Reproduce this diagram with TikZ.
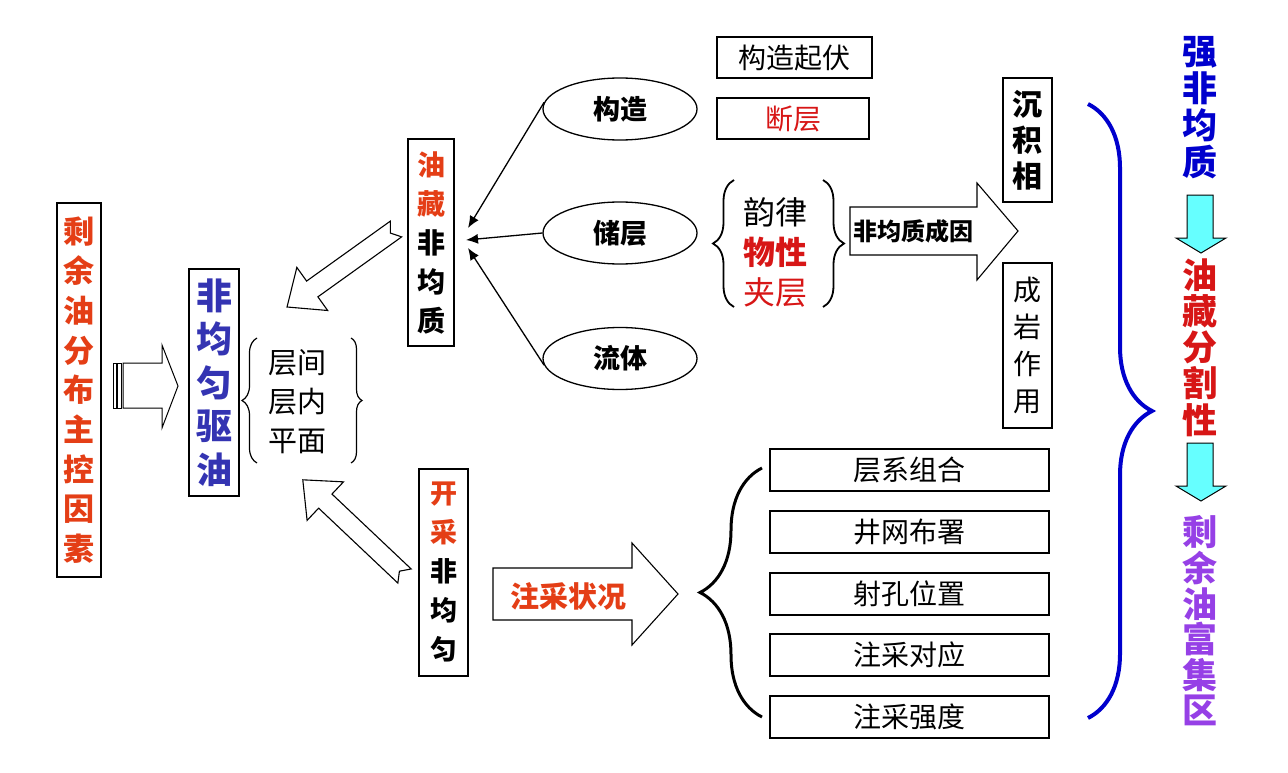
\documentclass[tikz,border=0pt]{standalone}
\usepackage{fontspec}
\setmainfont{Noto Sans CJK SC}
\usetikzlibrary{arrows.meta,decorations.pathreplacing,shapes.geometric,calc}
\definecolor{oilred}{RGB}{228,62,22}
\definecolor{drvblue}{RGB}{52,52,178}
\definecolor{facred}{RGB}{215,22,22}
\definecolor{strblue}{RGB}{0,0,205}
\definecolor{remviolet}{RGB}{150,64,230}
\definecolor{arrcyan}{RGB}{102,255,255}
\newcommand{\notcharrow}[3]{%
  \begin{scope}[shift={#1},rotate=#2]
    \draw[line width=1.1pt,fill=white] (0,-9.7)--(#3-31,-9.7)--(#3-31,-26.5)--(#3,0)--(#3-31,26.5)--(#3-31,9.7)--(0,9.7)--(7,0)--cycle;
  \end{scope}}

\begin{document}
\begin{tikzpicture}[x=1pt,y=-1pt,>=Latex,
  box/.style={draw,line width=1.4pt,inner sep=0pt,align=center},
  oval/.style={draw,ellipse,line width=1.3pt,minimum width=154pt,minimum height=62pt,inner sep=0pt,font=\bfseries\fontsize{27}{30}\selectfont},
  brc/.style={decorate,decoration={brace,amplitude=#1}},
  feed/.style={line width=1.3pt,-{Latex[length=12pt,width=10pt]}}]
\useasboundingbox (0,0) rectangle (1288,773);
\node[box,minimum width=44pt,minimum height=374pt,text=oilred,font=\bfseries\fontsize{31}{39.7}\selectfont] (ctrl) at (79,390) {剩\\余\\油\\分\\布\\主\\控\\因\\素};
\draw[line width=1pt] (113,363) rectangle (116,408); \draw[line width=1pt] (117.5,363) rectangle (121,408);
\draw[line width=1pt,fill=white] (123,363)--(162,363)--(162,345)--(178,386)--(162,428)--(162,408)--(123,408)--cycle;
\node[box,minimum width=50pt,minimum height=227pt,text=drvblue,font=\bfseries\fontsize{36}{43.5}\selectfont] (drive) at (214,382.5) {非\\均\\匀\\驱\\油};
\node[align=center,font=\fontsize{29}{39}\selectfont] (lvl) at (297,402) {层间\\层内\\平面};
\draw[brc=15,line width=1.2pt] (257,463) -- (257,338); \draw[brc=11,line width=1.2pt] (351,338) -- (351,463);
\node[box,minimum width=46pt,minimum height=207pt,font=\bfseries\fontsize{28}{39}\selectfont] (resv) at (431,242.5) {{\color{oilred}油}\\{\color{oilred}藏}\\非\\均\\质};
\node[box,minimum width=49pt,minimum height=207pt,font=\bfseries\fontsize{27}{39}\selectfont] (dev) at (443.5,572.5) {{\color{oilred}开}\\{\color{oilred}采}\\非\\均\\匀};
\notcharrow{(396,229)}{215.6}{134}
\notcharrow{(404.5,576)}{136.6}{140}
\node[oval] (gz) at (620,109) {构造}; \node[oval] (cc) at (620,233) {储层}; \node[oval] (lt) at (620,358.5) {流体};
\coordinate (hit) at (467,239);
\draw[feed] (gz.175) -- ($(hit)+(1,-11)$); \draw[feed] (cc.west) -- ($(hit)+(-1,1)$); \draw[feed] (lt.185) -- ($(hit)+(1,9)$);
\node[box,minimum width=155pt,minimum height=41pt,font=\fontsize{28}{30}\selectfont] (qf) at (794.5,57.5) {构造起伏};
\node[box,minimum width=152pt,minimum height=41pt,text=facred,font=\fontsize{28}{30}\selectfont] (dc) at (793,118.5) {断层};
\node[align=center,font=\fontsize{32}{40}\selectfont] (yl) at (775,252) {韵律\\{\color{facred}\bfseries 物性}\\{\color{facred}夹层}};
\draw[brc=21,line width=1.8pt] (734,307) -- (734,180); \draw[brc=21,line width=1.8pt] (823,180) -- (823,307);
\draw[line width=1.1pt,fill=white] (850,207)--(977,207)--(977,183)--(1018,231)--(977,280)--(977,255)--(850,255)--cycle;
\node[font=\bfseries\fontsize{24}{26}\selectfont] (cause) at (913,231) {非均质成因};
\node[box,minimum width=49pt,minimum height=124pt,font=\bfseries\fontsize{30}{36}\selectfont] (cj) at (1027.5,140) {沉\\积\\相};
\node[box,minimum width=49pt,minimum height=165pt,font=\fontsize{28}{37}\selectfont] (cy) at (1027.5,345.5) {成\\岩\\作\\用};
\draw[line width=1.1pt,fill=white] (493,568)--(632,568)--(632,543)--(678,594)--(632,645)--(632,620)--(493,620)--cycle;
\node[text=oilred,font=\bfseries\fontsize{29}{30}\selectfont] (zc) at (568,596) {注采状况};
\draw[brc=62,line width=3pt] (762,717) -- (762,468);
\foreach \t/\y [count=\i] in {层系组合/470,井网布署/532,射孔位置/594,注采对应/655,注采强度/717}
  \node[box,minimum width=279pt,minimum height=42pt,font=\fontsize{28}{30}\selectfont] (m\i) at (909.5,\y) {\t};
\draw[brc=64,line width=4pt,strblue] (1088,104) -- (1088,718);
\node[align=center,text=strblue,font=\bfseries\fontsize{35}{37}\selectfont] (sh) at (1200,108) {强\\非\\均\\质};
\node[align=center,text=facred,font=\bfseries\fontsize{35}{36.25}\selectfont] (fg) at (1200,347.5) {油\\藏\\分\\割\\性};
\node[align=center,text=remviolet,font=\bfseries\fontsize{35}{35.6}\selectfont] (fj) at (1200,621) {剩\\余\\油\\富\\集\\区};
\draw[line width=1pt,fill=arrcyan] (1187,195)--(1213,195)--(1213,238)--(1226,238)--(1201,253)--(1176,238)--(1187,238)--cycle;
\draw[line width=1pt,fill=arrcyan] (1187,443)--(1213,443)--(1213,486)--(1226,486)--(1201,501)--(1176,486)--(1187,486)--cycle;
\end{tikzpicture}
\end{document}
